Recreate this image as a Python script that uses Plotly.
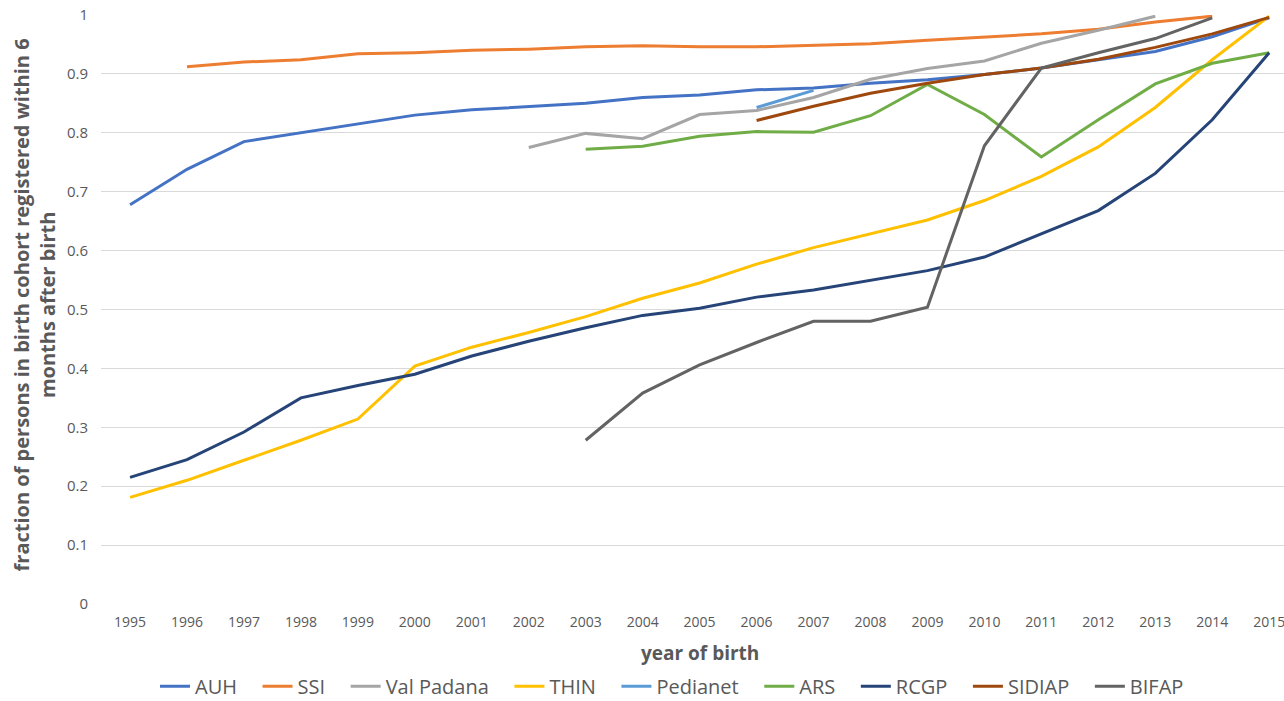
import plotly.graph_objects as go

years = list(range(1995, 2016))

auh = [0.678, 0.738, 0.785, 0.800, 0.815, 0.830, 0.839, 0.845, 0.850, 0.860, 0.864,
       0.873, 0.876, 0.884, 0.890, 0.899, 0.910, 0.924, 0.938, 0.963, 0.995]
ssi = [None, 0.912, 0.920, 0.924, 0.934, 0.936, 0.940, 0.942, 0.946, 0.948, 0.946,
       0.946, 0.949, 0.951, 0.957, 0.962, 0.968, 0.976, 0.988, 0.998, None]
val_padana = [None] * 7 + [0.775, 0.799, 0.790, 0.831, 0.838, 0.860, 0.891, 0.909,
                           0.922, 0.952, 0.974, 0.998, None, None]
thin = [0.181, 0.210, 0.244, 0.278, 0.314, 0.404, 0.436, 0.461, 0.488, 0.519, 0.545,
        0.577, 0.605, 0.629, 0.652, 0.685, 0.726, 0.776, 0.843, 0.924, 0.998]
pedianet = [None] * 11 + [0.843, 0.872] + [None] * 8
ars = [None] * 8 + [0.772, 0.777, 0.794, 0.802, 0.801, 0.829, 0.882, 0.831, 0.759,
                    0.822, 0.883, 0.918, 0.936]
rcgp = [0.215, 0.245, 0.292, 0.350, 0.371, 0.390, 0.421, 0.446, 0.469, 0.490, 0.502,
        0.521, 0.533, 0.550, 0.566, 0.589, 0.628, 0.668, 0.731, 0.822, 0.936]
sidiap = [None] * 11 + [0.821, 0.845, 0.867, 0.884, 0.899, 0.910, 0.925, 0.945,
                        0.968, 0.996]
bifap = [None] * 8 + [0.278, 0.358, 0.406, 0.444, 0.480, 0.480, 0.504, 0.778, 0.910,
                      0.936, 0.960, 0.995, None]

series = [
    ('AUH', auh, '#4472C4'),
    ('SSI', ssi, '#ED7D31'),
    ('Val Padana', val_padana, '#A5A5A5'),
    ('THIN', thin, '#FFC000'),
    ('Pedianet', pedianet, '#5B9BD5'),
    ('ARS', ars, '#70AD47'),
    ('RCGP', rcgp, '#264478'),
    ('SIDIAP', sidiap, '#9E480E'),
    ('BIFAP', bifap, '#636363'),
]

fig = go.Figure()
for name, vals, color in series:
    # trailing non-breaking spaces widen the gap between legend entries
    fig.add_trace(go.Scatter(
        x=years, y=vals, name=name + '\u00a0\u00a0\u00a0', mode='lines',
        line=dict(color=color, width=3),
        hovertemplate=name + ': %{y:.3f}<extra></extra>',
    ))

fig.update_layout(
    width=1284, height=701,
    margin=dict(l=101, r=0, t=15, b=97),
    plot_bgcolor='white', paper_bgcolor='white',
    font=dict(family='Open Sans', color='#595959', size=12),
    showlegend=True,
    legend=dict(orientation='h', x=0.489, xanchor='center',
                yref='container', y=0.021, yanchor='middle',
                font=dict(size=20, color='#595959'), tracegroupgap=0),
)
fig.update_xaxes(
    range=[1994.49, 2015.26], tickmode='array', tickvals=years,
    showgrid=False, zeroline=False, showline=False, ticks='',
    ticklabelstandoff=8, ticklabeloverflow='allow',
    tickfont=dict(size=14, color='#595959'),
)
fig.update_yaxes(
    range=[0, 1], tickvals=[i / 10 for i in range(11)],
    ticktext=['0', '0.1', '0.2', '0.3', '0.4', '0.5', '0.6', '0.7', '0.8', '0.9', '1'],
    showgrid=True, gridcolor='#D9D9D9', gridwidth=1, zeroline=False,
    ticks='', ticklabelstandoff=12,
    tickfont=dict(size=15, color='#595959'),
)
fig.add_annotation(
    text='<b>year of birth</b>', xref='paper', yref='paper', x=0.506, y=-0.083,
    yanchor='middle', showarrow=False, font=dict(size=19, color='#595959'),
)
fig.add_annotation(
    text='<b>fraction of persons in birth cohort registered within 6<br>months after birth</b>',
    xref='paper', yref='paper', x=-0.0566, y=0.507, xanchor='center', yanchor='middle',
    textangle=-90, showarrow=False, font=dict(size=20, color='#595959'),
)

fig.write_html("out.html", config={'displayModeBar': False},
               post_script="document.body.style.margin='0';")
